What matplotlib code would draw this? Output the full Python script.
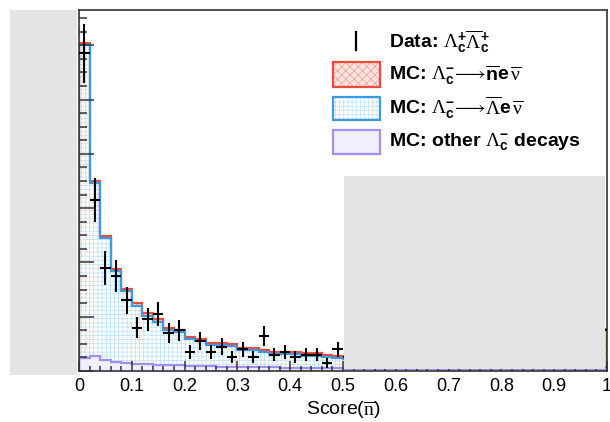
import numpy as np
import matplotlib
matplotlib.use('Agg')
import matplotlib.pyplot as plt
from matplotlib.patches import Rectangle
from matplotlib.lines import Line2D

plt.rcParams['font.family'] = ['Liberation Sans', 'DejaVu Sans']
plt.rcParams['mathtext.fontset'] = 'custom'
plt.rcParams['mathtext.rm'] = 'Liberation Serif'
plt.rcParams['mathtext.it'] = 'Liberation Serif:italic'
plt.rcParams['mathtext.bf'] = 'Liberation Sans:bold'
plt.rcParams['mathtext.sf'] = 'Liberation Sans'
plt.rcParams['hatch.linewidth'] = 0.6

# 50 bins of width 0.02 on [0, 1]
edges = np.linspace(0.0, 1.0, 51)

data_counts = [117, 63, 38, 35, 26, 16, 19, 21, 14, 15,
               7, 11, 7, 9, 5, 8, 5, 13, 6, 7,
               5, 6, 6, 3, 8, 5, 6, 4, 5, 4,
               3, 5, 4, 3, 4, 3, 4, 3, 3, 4,
               3, 4, 4, 5, 4, 5, 6, 7, 9, 15]

mc_other = [4.9, 5.6, 4.1, 3.4, 2.9, 2.6, 2.6, 2.3, 2.2, 2.1,
            1.9, 1.8, 1.7, 1.6, 1.6, 1.5, 1.4, 1.4, 1.3, 1.2,
            1.2, 1.1, 1.1, 1.1, 1.0, 0.9, 0.8, 0.8, 0.7, 0.7,
            0.7, 0.6, 0.6, 0.6, 0.5, 0.5, 0.5, 0.5, 0.5, 0.5,
            0.5, 0.5, 0.5, 0.5, 0.5, 0.5, 0.5, 0.5, 0.5, 0.5]

mc_lambda = [115.1, 63.7, 44.8, 33.3, 26.4, 21.4, 17.8, 15.9, 13.0, 12.3,
             9.9, 9.2, 7.9, 8.0, 7.5, 6.2, 6.3, 5.5, 4.8, 4.9,
             4.9, 4.6, 4.6, 3.9, 3.8, 3.5, 3.2, 3.0, 2.8, 2.6,
             2.4, 2.2, 2.0, 1.9, 1.8, 1.7, 1.6, 1.5, 1.4, 1.3,
             1.3, 1.2, 1.2, 1.1, 1.1, 1.0, 1.0, 1.0, 1.0, 1.0]

mc_nbar = [0.8, 0.8, 0.8, 0.8, 0.8, 0.9, 0.8, 0.8, 0.8, 0.8,
           0.8, 0.8, 0.8, 0.8, 0.8, 0.8, 0.8, 0.8, 0.8, 0.8,
           0.8, 0.8, 0.8, 0.8, 0.8, 0.8, 0.8, 0.9, 0.9, 0.9,
           1.0, 1.0, 1.0, 1.1, 1.1, 1.2, 1.2, 1.3, 1.3, 1.4,
           1.5, 1.6, 1.7, 1.8, 2.0, 2.2, 2.5, 3.0, 4.0, 14.0]

legend_labels = [
    r'Data: $\Lambda_{\mathbf{c}}^{\mathbf{+}}\overline{\Lambda}_{\mathbf{c}}^{\mathbf{+}}$',
    r'MC: $\Lambda_{\mathbf{c}}^{\mathbf{-}}\!\longrightarrow\!\overline{\mathbf{n}}\mathbf{e}\,\overline{\mathrm{\nu}}$',
    r'MC: $\Lambda_{\mathbf{c}}^{\mathbf{-}}\!\longrightarrow\!\overline{\Lambda}\mathbf{e}\,\overline{\mathrm{\nu}}$',
    r'MC: other $\Lambda_{\mathbf{c}}^{\mathbf{-}}$ decays',
]

red = '#ef4b3c'
blue = '#3a9be0'
purple = '#9e8ff2'
gray = '#e4e4e4'

W, H = 610, 422
fig = plt.figure(figsize=(W / 100, H / 100), dpi=100)
ax = fig.add_axes([79 / W, 1 - 371 / H, 528 / W, 361 / H])

other = np.array(mc_other)
stack_lam = other + np.array(mc_lambda)
stack_all = stack_lam + np.array(mc_nbar)

# stacked fills
ax.stairs(stack_all, edges, baseline=stack_lam, fill=True, facecolor='#fbe3df',
          edgecolor='#f4a89f', hatch='xxxx', linewidth=0)
ax.stairs(stack_lam, edges, baseline=0, fill=True, facecolor='white',
          edgecolor='#c4e2f6', hatch='++++', linewidth=0)
ax.stairs(other, edges, baseline=0, fill=True, facecolor='#f1eefd', linewidth=0)
# outlines
ax.stairs(stack_all, edges, baseline=0, color=red, linewidth=1.6)
ax.stairs(stack_lam, edges, baseline=0, color=blue, linewidth=1.6)
ax.stairs(other, edges, baseline=0, color=purple, linewidth=1.6)

centers = 0.5 * (edges[:-1] + edges[1:])
d = np.array(data_counts, dtype=float)
ax.errorbar(centers, d, xerr=0.01, yerr=np.sqrt(d), fmt='none',
            ecolor='black', elinewidth=1.5, capsize=0, zorder=5)

ax.set_xlim(0, 1)
ax.set_ylim(0, 133)
ax.set_xticks(np.arange(0, 1.01, 0.1))
ax.set_xticklabels(['0', '0.1', '0.2', '0.3', '0.4', '0.5', '0.6', '0.7', '0.8', '0.9', '1'])
ax.set_xticks(np.arange(0, 1.001, 0.02), minor=True)
ax.set_yticks(np.arange(0, 121, 20))
ax.set_yticks(np.arange(0, 131, 5), minor=True)
ax.set_yticklabels([])
ax.tick_params(axis='x', which='major', direction='in', length=7.2, width=1.1,
               color='#333333', labelsize=13, pad=5)
ax.tick_params(axis='x', which='minor', direction='in', length=3.6, width=1.1, color='#333333')
ax.tick_params(axis='y', which='major', direction='in', length=10.8, width=1.1, color='#333333')
ax.tick_params(axis='y', which='minor', direction='in', length=5.8, width=1.1, color='#333333')
for s in ax.spines.values():
    s.set_linewidth(1.2)
    s.set_color('#333333')
ax.set_xlabel(r'Score($\overline{\mathrm{n}}$)', fontsize=14, labelpad=3)

# gray patches over the frame
fig.patches.append(Rectangle((10 / W, 1 - 375 / H), 67 / W, 365 / H,
                             transform=fig.transFigure, facecolor=gray,
                             edgecolor='none', zorder=10))
fig.patches.append(Rectangle((344 / W, 1 - 369 / H), 261 / W, 193 / H,
                             transform=fig.transFigure, facecolor=gray,
                             edgecolor='none', zorder=10))

# legend, drawn by hand
fig.lines.append(Line2D([356 / W, 356 / W], [1 - 32 / H, 1 - 50 / H],
                        transform=fig.transFigure, color='black', linewidth=1.6))
boxes = [(62, 87, '#fbe3df', red, 'xxxx', '#f4a89f'),
         (97, 120, 'white', blue, '++++', '#c4e2f6'),
         (130, 154, '#f1eefd', purple, None, None)]
for y0, y1, fc, ec, hatch, hc in boxes:
    fig.patches.append(Rectangle((333 / W, 1 - y1 / H), 47 / W, (y1 - y0) / H,
                                 transform=fig.transFigure, facecolor=fc,
                                 edgecolor=hc if hc else ec, hatch=hatch,
                                 linewidth=0))
    fig.patches.append(Rectangle((333 / W, 1 - y1 / H), 47 / W, (y1 - y0) / H,
                                 transform=fig.transFigure, facecolor='none',
                                 edgecolor=ec, linewidth=1.6))
for yc, lab in zip([42, 75, 108, 142], legend_labels):
    fig.text(389 / W, 1 - yc / H, lab, fontsize=14, fontweight='bold',
             va='center', ha='left')

fig.savefig('out.png', dpi=100)
